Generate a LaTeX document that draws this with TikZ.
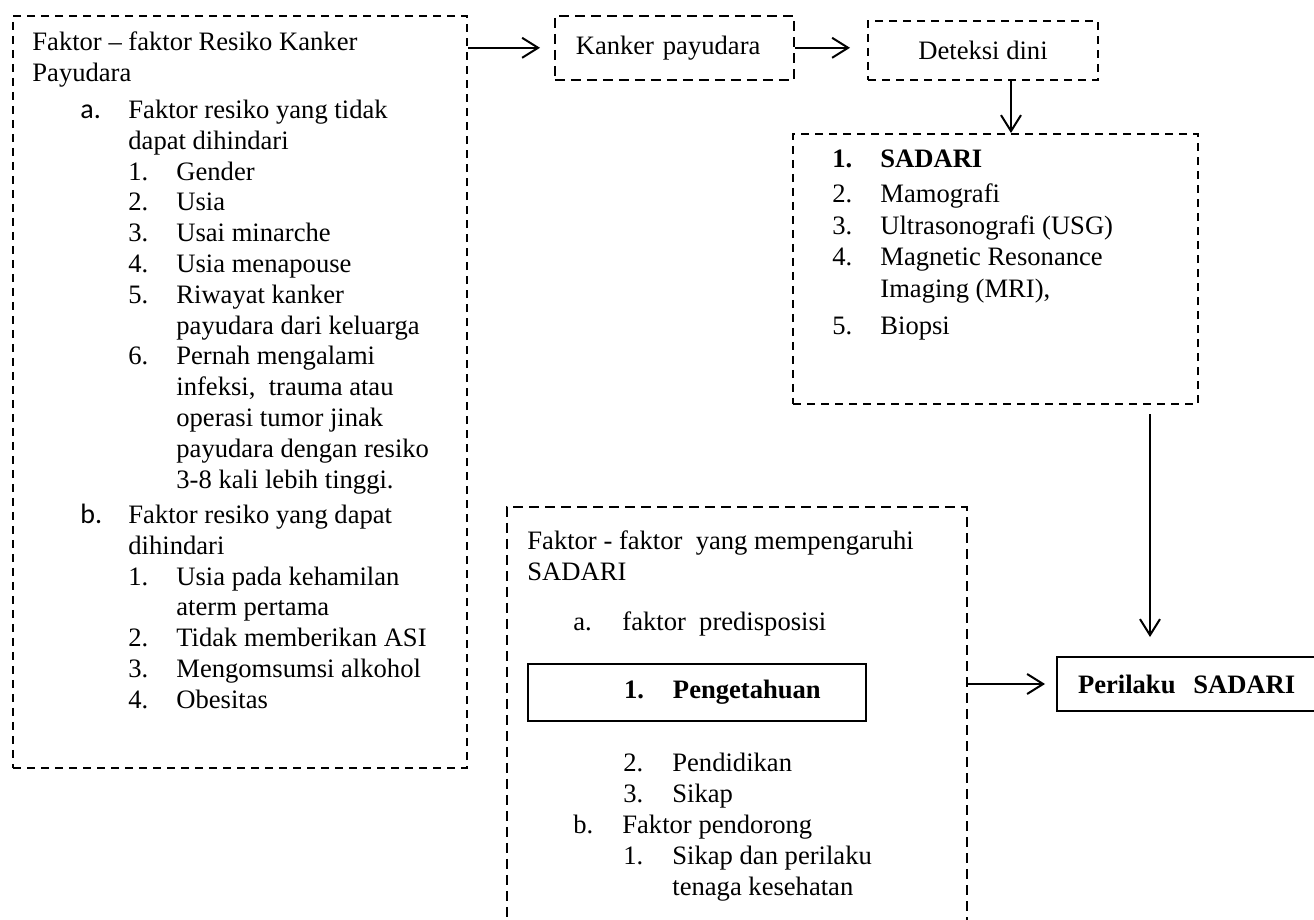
\documentclass[tikz,border=0pt]{standalone}
\usepackage{fontspec}
\setmainfont{Liberation Serif}
\newfontfamily\lblfont{Carlito}
\usetikzlibrary{positioning, arrows.meta}

\newcommand{\tp}{\rule{0pt}{10pt}}
\newcommand{\la}[1]{\hspace*{24pt}\makebox[24pt][l]{\lblfont\fontsize{14pt}{15.4pt}\selectfont #1}}
\newcommand{\lb}[1]{\hspace*{48pt}\makebox[24pt][l]{#1}}
\newcommand{\ca}{\hspace*{48pt}}
\newcommand{\cb}{\hspace*{72pt}}
\newcommand{\pa}[1]{\hspace*{23pt}\makebox[24.5pt][l]{#1}}
\newcommand{\pb}[1]{\hspace*{48pt}\makebox[24.5pt][l]{#1}}

\begin{document}
\begin{tikzpicture}[x=0.5pt,y=-0.5pt,
    font=\fontsize{13.3pt}{15.4pt}\selectfont,
    >={Straight Barb[length=8pt,width=10pt]},
    dbox/.style={draw, dash pattern=on 4pt off 3pt, line width=1pt, anchor=north west, inner sep=0pt},
    tbox/.style={draw, dash pattern=on 5pt off 3pt, line width=0.8pt, anchor=north west, inner sep=0pt},
    sbox/.style={draw, line width=1pt, anchor=north west},
    txt/.style={anchor=north west, align=left, inner sep=0pt},
    link/.style={->, line width=1pt}]

	\useasboundingbox (0,0) rectangle (1314,920);

	% boxes
	\node[dbox, minimum width=227pt, minimum height=376pt] (risk) at (12,15) {};
	\node[tbox, minimum width=119.5pt, minimum height=32pt, text width=98.5pt, inner xsep=10.5pt, align=left] (kanker) at (554,15) {Kanker payudara};
	\node[dbox, minimum width=115pt, minimum height=29.5pt] (deteksi) at (867,20) {Deteksi dini};
	\node[dbox, minimum width=202.5pt, minimum height=135pt] (list) at (792,133) {};
	\node[tbox, minimum width=230pt, minimum height=220pt] (sadf) at (506,506) {};
	\node[sbox, text width=169pt, inner xsep=0pt, align=left, minimum height=28.5pt] (tahu) at (527,663) {\pb{\textbf{1.}}\textbf{Pengetahuan}};
	\node[sbox, text width=119pt, inner xsep=10.5pt, align=left, minimum height=27pt] (perilaku) at (1056,656) {\textbf{Perilaku\ \ SADARI}};

	% texts
	\node[txt] (risktxt) at (32,30) {\tp Faktor -- faktor Resiko Kanker\\
		Payudara\\[3.25pt]
		\la{a.}Faktor resiko yang tidak\\
		\ca dapat dihindari\\
		\lb{1.}Gender\\
		\lb{2.}Usia\\
		\lb{3.}Usai minarche\\
		\lb{4.}Usia menapouse\\
		\lb{5.}Riwayat kanker\\
		\cb payudara dari keluarga\\
		\lb{6.}Pernah mengalami\\
		\cb infeksi,\ \ trauma atau\\
		\cb operasi tumor jinak\\
		\cb payudara dengan resiko\\
		\cb 3-8 kali lebih tinggi.\\[2.25pt]
		\la{b.}Faktor resiko yang dapat\\
		\ca dihindari\\
		\lb{1.}Usia pada kehamilan\\
		\cb aterm pertama\\
		\lb{2.}Tidak memberikan ASI\\
		\lb{3.}Mengomsumsi alkohol\\
		\lb{4.}Obesitas};
	\node[txt, font=\fontsize{13.3pt}{15.5pt}\selectfont] (listtxt) at (832,147) {\tp\makebox[24pt][l]{\textbf{1.}}\textbf{SADARI}\\[2pt]
		\makebox[24pt][l]{2.}Mamografi\\[0.5pt]
		\makebox[24pt][l]{3.}Ultrasonografi (USG)\\
		\makebox[24pt][l]{4.}Magnetic Resonance\\[0.5pt]
		\hspace*{24pt}Imaging (MRI),\\[3pt]
		\makebox[24pt][l]{5.}Biopsi};
	\node[txt] (sadfhead) at (527,529) {\tp Faktor - faktor\ \ yang mempengaruhi\\
		SADARI\\[9.6pt]
		\pa{a.}faktor\ \ predisposisi};
	\node[txt, font=\fontsize{13.3pt}{15.5pt}\selectfont] (sadfrest) at (527,751) {\tp\pb{2.}Pendidikan\\
		\pb{3.}Sikap\\
		\pa{b.}Faktor pendorong\\
		\pb{1.}Sikap dan perilaku\\
		\hspace*{72.5pt}tenaga kesehatan};

	% arrows
	\draw[link, shorten >=7pt] (kanker.west -| risk.east) -- (kanker.west);
	\draw[link, shorten >=8.5pt] (kanker.east) -- (kanker.east -| deteksi.west);
	\draw[link] ([xshift=14pt]deteksi.south) -- ([xshift=14pt]deteksi.south |- list.north);
	\draw[link, shorten <=4.5pt, shorten >=9.5pt] ([xshift=-24.5pt]list.south east) -- ([xshift=-24.5pt]list.south east |- perilaku.north);
	\draw[link, shorten >=5.5pt] (perilaku.west -| sadf.east) -- (perilaku.west);
\end{tikzpicture}
\end{document}
